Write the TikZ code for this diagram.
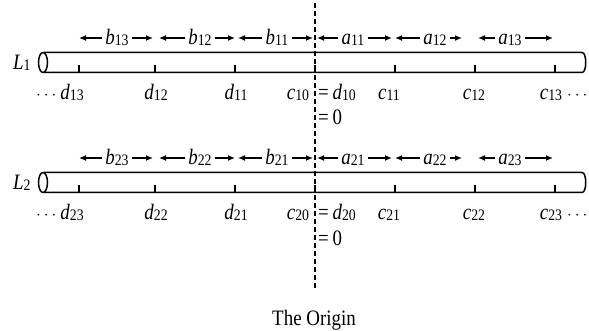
\documentclass[tikz,border=0pt]{standalone}
\usepackage{fontspec}
\setmainfont{Liberation Serif}[FakeStretch=0.86]
\usetikzlibrary{arrows.meta}
\newcommand{\vsub}[2]{\textit{#1}\raisebox{-1pt}{\fontsize{16}{16}\selectfont #2}}

\begin{document}
\begin{tikzpicture}[x=1pt, y=-1pt,
  every node/.style={font=\fontsize{22}{24}\selectfont, inner sep=0pt, anchor=base},
  ends/.style={font=\fontsize{17}{17}\selectfont},
  tube/.style={line width=1.5pt},
  tick/.style={line width=1.2pt},
  span/.style={line width=1.5pt, -{Latex[length=7pt,width=6pt]}},
  origin/.style={line width=1.2pt, dash pattern=on 5pt off 3pt}]
\useasboundingbox (0,0) rectangle (589,331);
\foreach \i/\oy in {1/0, 2/120} {
  % conductor
  \node[anchor=base west] (L\i) at (13,70+\oy) {\vsub{L}{\i}};
  \draw[tube] (43,62.5+\oy) ellipse [x radius=4.5, y radius=10];
  \draw[tube] (44,52.5+\oy) -- (582,52.5+\oy)
    .. controls (587,52.5+\oy) and (587,72.5+\oy) .. (582,72.5+\oy) -- (44,72.5+\oy);
  \foreach \x in {79,155,235,315,395,475,555}
    \draw[tick] (\x,72.5+\oy) -- (\x,65+\oy);
  % segment lengths
  \foreach \s/\n/\lx/\tl/\tr in {b/3/117/79/153, b/2/200/159/235, b/1/277/238/313,
                                 a/1/353/317/392, a/2/435/395/462, a/3/510/478/553} {
    \node (\s\i\n) at (\lx,45+\oy) {\vsub{\s}{\i\n}};
    \coordinate (\s\i\n l) at (\tl,38+\oy);
    \coordinate (\s\i\n r) at (\tr,38+\oy);
    \draw[span] ([shift={(-3pt,7pt)}]\s\i\n.base west) -- (\s\i\n l);
    \draw[span] ([shift={(3pt,7pt)}]\s\i\n.base east) -- (\s\i\n r);
  }
  % end points
  \node[ends, anchor=base west] (ldots\i) at (36,100+\oy) {$\cdots$};
  \node (d\i3) at (72,100+\oy) {\vsub{d}{\i3}};
  \node (d\i2) at (156,100+\oy) {\vsub{d}{\i2}};
  \node (d\i1) at (236,100+\oy) {\vsub{d}{\i1}};
  \node (c\i0) at (298,100+\oy) {\vsub{c}{\i0}};
  \node[anchor=base west] (d\i0) at (318,100+\oy) {=\,\vsub{d}{\i0}};
  \node[anchor=base west] (zero\i) at (318,125+\oy) {=\,0};
  \node (c\i1) at (389,100+\oy) {\vsub{c}{\i1}};
  \node (c\i2) at (474,100+\oy) {\vsub{c}{\i2}};
  \node (c\i3) at (551,100+\oy) {\vsub{c}{\i3}};
  \node[ends, anchor=base west] (rdots\i) at (567,100+\oy) {$\cdots$};
}
\node (origin) at (314,325) {The Origin};
\coordinate (otop) at (315,3);
\draw[origin] (otop) -- ([yshift=21pt]origin.north -| otop);
\end{tikzpicture}
\end{document}
